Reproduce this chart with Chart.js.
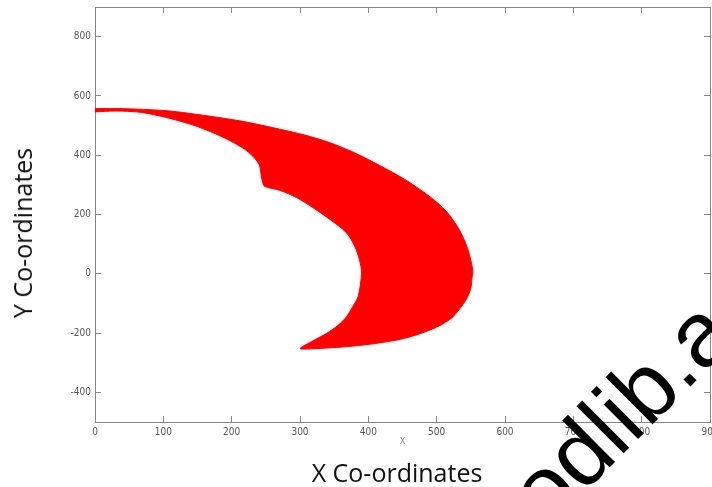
<!DOCTYPE html>
<html>
<head>
<meta charset="utf-8">
<script src="https://cdn.jsdelivr.net/npm/chart.js@4/dist/chart.umd.min.js"></script>
<style>
  html, body { margin: 0; padding: 0; background: #fff; overflow: hidden; }
  #wrap { position: relative; width: 712px; height: 487px; overflow: hidden; }
  #chart { position: absolute; left: 0; top: 0; }
  .cap { position: absolute; font-family: "Open Sans", sans-serif; font-size: 25px; color: #111; white-space: nowrap; }
  #xcap { left: 397px; top: 472px; transform: translate(-50%, -50%); }
  #ycap { left: 22px; top: 233px; transform: translate(-50%, -50%) rotate(-90deg); }
</style>
</head>
<body>
<div id="wrap">
  <canvas id="chart" width="760" height="487"></canvas>
  <div class="cap" id="xcap">X Co-ordinates</div>
  <div class="cap" id="ycap">Y Co-ordinates</div>
</div>
<script>
// outer edge: from the left tip along the top, round the right side, down to the lower tip
const outerX = [0, 42, 100, 139, 212, 270, 307, 343, 380, 416, 453, 489, 514, 533, 545, 552, 553, 552, 550, 543, 524, 509, 490, 465, 441, 404, 368, 309, 300];
const outerY = [557, 557, 551, 541, 516, 488, 468, 443, 408, 366, 319, 262, 211, 149, 87, 25, 0, -9, -48, -88, -145, -169, -190, -210, -224, -237, -246, -254, -252];
// inner edge: from the lower tip back up through the notch to the left tip
const innerX = [319, 339, 356, 368, 377, 385, 390, 387, 380, 368, 344, 319, 295, 271, 249, 246, 243, 241, 234, 222, 207, 188, 163, 139, 103, 66, 30, 0];
const innerY = [-226, -201, -173, -145, -111, -77, 2, 47, 93, 138, 183, 223, 257, 281, 294, 302, 335, 364, 389, 415, 437, 460, 485, 505, 528, 545, 549, 546];

const xTicks = [0, 100, 200, 300, 400, 500, 600, 700, 800, 900];
const yTicks = [-400, -200, 0, 200, 400, 600, 800];
const watermarkText = 'odlib.a';

const axisColor = '#858585';
const labelColor = '#555';
const tickFont = { family: '"Liberation Sans Narrow", "DejaVu Sans Condensed", sans-serif', size: 10 };

// build the closed outline from the two edges
const outline = [];
outerX.forEach((x, i) => outline.push({ x: x, y: outerY[i] }));
innerX.forEach((x, i) => outline.push({ x: x, y: innerY[i] }));

const setTicks = vals => scale => { scale.ticks = vals.map(v => ({ value: v })); };

// fixed box sizes so the plot area sits where the reference has it
const fixBox = (w, h) => scale => {
  if (w !== null) scale.width = w;
  if (h !== null) scale.height = h;
  scale.paddingTop = 0;
  scale.paddingBottom = 0;
  scale.paddingLeft = 0;
  scale.paddingRight = 0;
};

const watermark = {
  id: 'watermark',
  afterDraw(chart) {
    const ctx = chart.ctx;
    ctx.save();
    ctx.translate(547, 530);
    ctx.rotate(-Math.PI / 4);
    ctx.font = '92px "Liberation Sans", Arial, sans-serif';
    ctx.fillStyle = '#000';
    ctx.textBaseline = 'alphabetic';
    ctx.fillText(watermarkText, 0, 0);
    ctx.restore();
  }
};

new Chart(document.getElementById('chart'), {
  type: 'scatter',
  data: {
    datasets: [{
      data: outline,
      showLine: true,
      fill: 'shape',
      backgroundColor: '#ff0000',
      borderColor: '#ff0000',
      borderWidth: 1,
      tension: 0.3,
      pointRadius: 0
    }]
  },
  options: {
    responsive: false,
    animation: false,
    devicePixelRatio: 1,
    layout: { padding: 0 },
    plugins: {
      legend: { display: false },
      tooltip: { enabled: false }
    },
    scales: {
      x: {
        type: 'linear', position: 'bottom', min: 0, max: 900,
        afterBuildTicks: setTicks(xTicks),
        afterFit: fixBox(null, 65),
        border: { color: axisColor, width: 1 },
        grid: { drawOnChartArea: false, tickLength: -6, color: axisColor },
        ticks: { padding: 10, color: labelColor, font: tickFont, maxRotation: 0, autoSkip: false },
        title: { display: true, text: 'X', color: '#888', font: { family: tickFont.family, size: 9 }, padding: { top: 0, bottom: 40 } }
      },
      x2: {
        type: 'linear', position: 'top', min: 0, max: 900,
        afterBuildTicks: setTicks(xTicks),
        afterFit: fixBox(null, 7),
        border: { color: axisColor, width: 1 },
        grid: { drawOnChartArea: false, tickLength: -6, color: axisColor },
        ticks: { display: false }
      },
      y: {
        type: 'linear', position: 'left', min: -500, max: 900,
        afterBuildTicks: setTicks(yTicks),
        afterFit: fixBox(95, null),
        border: { color: axisColor, width: 1 },
        grid: { drawOnChartArea: false, tickLength: -6, color: axisColor },
        ticks: { padding: 10, color: labelColor, font: tickFont }
      },
      y2: {
        type: 'linear', position: 'right', min: -500, max: 900,
        afterBuildTicks: setTicks(yTicks),
        afterFit: fixBox(50, null),
        border: { color: axisColor, width: 1 },
        grid: { drawOnChartArea: false, tickLength: -6, color: axisColor },
        ticks: { display: false }
      }
    }
  },
  plugins: [watermark]
});
</script>
</body>
</html>
